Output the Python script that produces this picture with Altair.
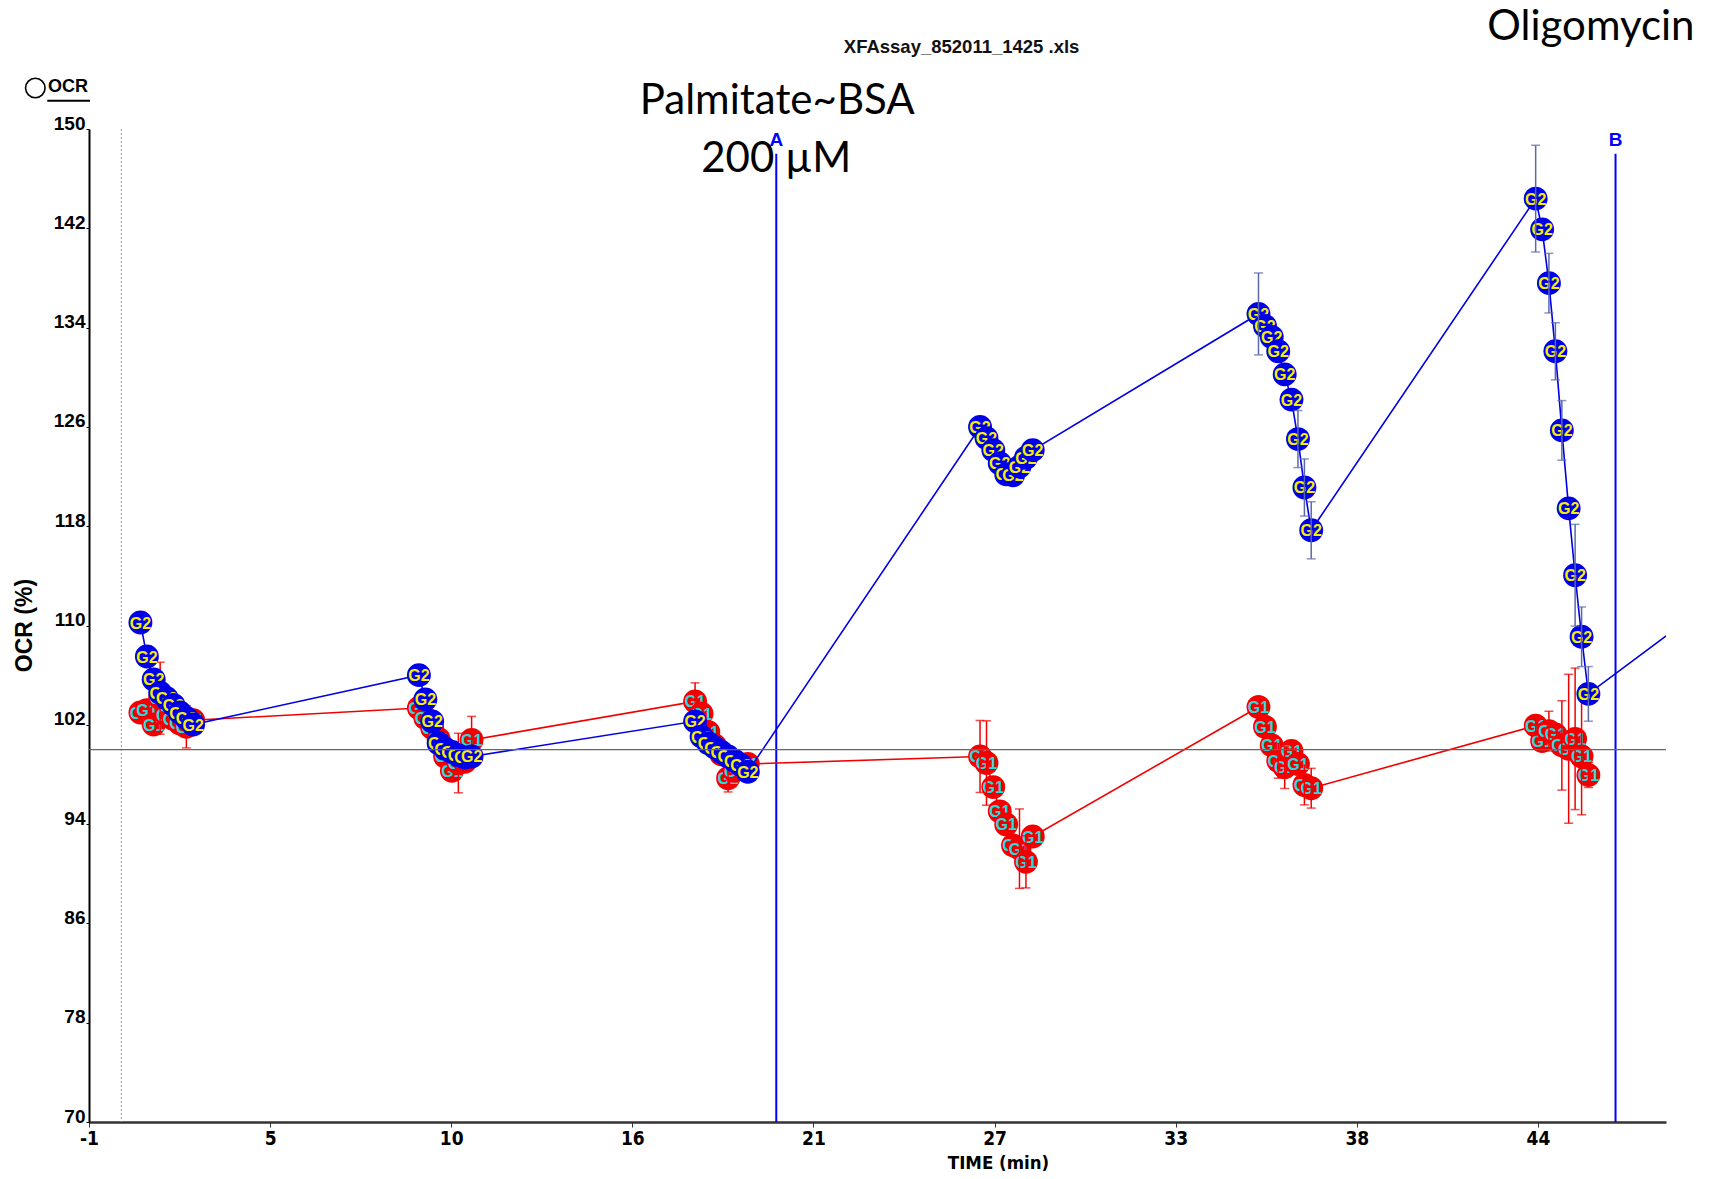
import altair as alt
import pandas as pd

# ---- data -----------------------------------------------------------------
# Measurement times (min): six cycles of nine readings each
cycle_times = [
    [0.59, 0.79, 1.00, 1.20, 1.40, 1.61, 1.81, 2.01, 2.22],
    [9.20, 9.40, 9.61, 9.81, 10.01, 10.22, 10.42, 10.62, 10.83],
    [17.74, 17.94, 18.15, 18.35, 18.55, 18.76, 18.96, 19.16, 19.37],
    [26.55, 26.75, 26.96, 27.16, 27.36, 27.57, 27.77, 27.97, 28.18],
    [35.16, 35.36, 35.57, 35.77, 35.97, 36.18, 36.38, 36.58, 36.79],
    [43.73, 43.93, 44.14, 44.34, 44.54, 44.75, 44.95, 45.15, 45.36],
]

# Group 1 (red) OCR in % of baseline, and its error (+/-)
g1_ocr = [
    [102.99, 103.17, 102.02, 104.14, 102.81, 102.46, 102.11, 101.84, 102.37],
    [103.35, 102.55, 101.75, 100.87, 99.45, 98.30, 98.92, 99.01, 100.78],
    [103.88, 102.90, 101.40, 100.34, 99.63, 97.69, 98.30, 98.75, 98.84],
    [99.45, 98.92, 96.98, 95.03, 93.97, 92.29, 92.02, 90.96, 93.00],
    [103.43, 101.84, 100.34, 99.10, 98.57, 99.90, 98.84, 97.15, 96.89],
    [101.93, 100.69, 101.49, 101.22, 100.34, 100.07, 100.87, 99.45, 97.95],
]
g1_err = [
    [0, 0, 0, 2.9, 0, 0, 0, 1.7, 0],
    [0, 0, 0, 0, 0, 0, 2.4, 0, 1.9],
    [1.5, 0, 0, 0, 0, 1.1, 0, 0, 0],
    [2.9, 3.4, 0, 0, 0, 0, 3.2, 2.1, 0],
    [0, 0, 0, 1.4, 1.7, 0, 0, 1.6, 1.6],
    [0.8, 0, 1.6, 0, 3.6, 6.0, 5.7, 4.7, 1.0],
]

# Group 2 (blue)
g2_ocr = [
    [110.24, 107.50, 105.65, 104.58, 104.14, 103.61, 102.99, 102.55, 102.02],
    [106.00, 104.05, 102.28, 100.51, 100.07, 99.81, 99.54, 99.37, 99.45],
    [102.28, 101.05, 100.51, 100.16, 99.81, 99.45, 99.10, 98.75, 98.22],
    [125.99, 125.10, 124.13, 123.07, 122.19, 122.10, 122.80, 123.51, 124.13],
    [135.10, 134.13, 133.24, 132.09, 130.23, 128.20, 125.02, 121.12, 117.67],
    [144.39, 141.91, 137.58, 132.09, 125.72, 119.44, 114.05, 109.09, 104.49],
]
g2_err = [
    [0, 0, 0, 0, 0, 0, 0, 0, 0],
    [0, 0, 0, 0, 0, 0, 0, 0, 0],
    [0, 0, 0, 0, 0, 0, 0, 0, 0],
    [0, 0, 0, 0, 0, 0, 0, 0, 0],
    [3.3, 0, 0, 0, 0, 0, 2.3, 2.3, 2.3],
    [4.3, 0, 2.4, 2.3, 2.4, 0, 4.1, 2.4, 2.2],
]
# first reading of the following cycle (beyond the time window shown)
g2_next = (52.30, 118.0)

# Injection ports
port_names = ["A", "B"]
port_times = [20.25, 46.20]

x_ticks = [-1, 4.6, 10.2, 15.8, 21.4, 27, 32.6, 38.2, 43.8]
y_ticks = [70, 78, 86, 94, 102, 110, 118, 126, 134, 142, 150]

# ---- styling ----------------------------------------------------------------
SANS = "Liberation Sans"
NARROW = "Liberation Sans Narrow, DejaVu Sans Condensed, Liberation Sans"
NOTE = "Lato"

RED, CYAN = "#f20000", "#22dede"
BLUE, YELLOW = "#0000e6", "#f6f000"
BLUE_ERR = "#5a68aa"

XS = alt.Scale(domain=[-1, 47.76], nice=False, zero=False)
YS = alt.Scale(domain=[70, 150], nice=False, zero=False)

XAX = alt.Axis(
    values=x_ticks, labelExpr="'' + round(datum.value)", title="TIME (min)",
    titleX=909, titleY=40, titleBaseline="middle", titleFont=NARROW,
    titleFontSize=18.5, titleFontWeight="bold", labelFont=NARROW, labelFontSize=19,
    labelFontWeight="bold", labelColor="black", titleColor="black",
    tickSize=5, labelPadding=2, domainColor="#333333", domainWidth=2.5,
    tickColor="#333333", grid=False, labelFlush=False, labelOverlap=False,
)
YAX = alt.Axis(
    values=y_ticks, format="d", title="OCR (%)", titleX=-65, titleY=496,
    titleAngle=270, titleAlign="center", titleBaseline="middle", titleFont=SANS,
    titleFontSize=23, titleFontWeight="bold", titleColor="black",
    labelFont=SANS, labelFontSize=19, labelFontWeight="bold", labelColor="black",
    labelBaseline="alphabetic", tickSize=3, labelPadding=1, domainColor="black",
    domainWidth=2, tickColor="black", grid=False, labelFlush=False,
    labelOverlap=False,
)


def xq(field):
    return alt.X(f"{field}:Q", scale=XS, axis=XAX)


def yq(field):
    return alt.Y(f"{field}:Q", scale=YS, axis=YAX)


# ---- tidy table ---------------------------------------------------------------
rows = []
for name, ocr, err in (("G1", g1_ocr, g1_err), ("G2", g2_ocr, g2_err)):
    for c, times in enumerate(cycle_times):
        for i, t in enumerate(times):
            v, e = ocr[c][i], err[c][i]
            rows.append(dict(series=name, cycle=c, idx=i, t=t, ocr=v, err=e,
                             lo=v - e, hi=v + e))
df = pd.DataFrame(rows)

line_g1 = df[df.series == "G1"][["t", "ocr"]]
line_g2 = pd.concat([df[df.series == "G2"][["t", "ocr"]],
                     pd.DataFrame({"t": [g2_next[0]], "ocr": [g2_next[1]]})])

layers = []

# dotted start marker at t = 0
layers.append(alt.Chart(pd.DataFrame({"t": [0]})).mark_rule(
    color="#9a9a9a", strokeDash=[2, 2], strokeWidth=1).encode(x=xq("t")))

# injection port lines and their letters
ports = pd.DataFrame({"name": port_names, "t": port_times,
                      "top": [148.0, 148.0], "bottom": [70, 70],
                      "label_y": [149.1, 149.1]})
layers.append(alt.Chart(ports).mark_rule(color="#0000ff", strokeWidth=2).encode(
    x=xq("t"), y=yq("top"), y2=alt.Y2("bottom")))
layers.append(alt.Chart(ports).mark_text(
    font=SANS, fontWeight="bold", fontSize=19, color="#0000ff",
    baseline="middle").encode(x=xq("t"), y=yq("label_y"), text="name:N"))


def series_layers(name, line_df, fill, text_color, err_color):
    out = [alt.Chart(line_df).mark_line(
        color=fill, strokeWidth=1.6, clip=True).encode(
        x=xq("t"), y=yq("ocr"), order="t:Q")]
    sub = df[df.series == name]
    for i in range(9):
        pts = sub[sub.idx == i]
        out.append(alt.Chart(pts).mark_circle(
            size=570, opacity=1, color=fill).encode(x=xq("t"), y=yq("ocr")))
        out.append(alt.Chart(pts).mark_text(
            text=name, font=SANS, fontWeight="bold", fontSize=16,
            color=text_color, baseline="middle", dy=1).encode(
            x=xq("t"), y=yq("ocr")))
    bars = sub[sub.err > 0]
    out.append(alt.Chart(bars).mark_rule(color=err_color, strokeWidth=1.5).encode(
        x=xq("t"), y=yq("lo"), y2=alt.Y2("hi")))
    out.append(alt.Chart(bars).transform_fold(["lo", "hi"], as_=["end", "v"]).mark_tick(
        orient="horizontal", size=9, thickness=1.5, color=err_color).encode(
        x=xq("t"), y=yq("v")))
    return out


layers += series_layers("G1", line_g1, RED, CYAN, RED)
layers += series_layers("G2", line_g2, BLUE, YELLOW, BLUE_ERR)

# 100 % reference line
layers.append(alt.Chart(pd.DataFrame({"v": [100]})).mark_rule(
    color="#666666", strokeWidth=1.2).encode(y=yq("v")))

# file name heading
layers.append(alt.Chart(pd.DataFrame({"t": [25.98], "v": [156.6],
                                      "s": ["XFAssay_852011_1425 .xls"]})).mark_text(
    font=SANS, fontWeight="bold", fontSize=18.5, color="#111111",
    baseline="middle").encode(x=xq("t"), y=yq("v"), text="s:N"))

# treatment notes
notes = pd.DataFrame({"t": [20.28, 20.25, 45.44],
                      "v": [152.26, 147.58, 158.2],
                      "s": ["Palmitate~BSA", "200 µM", "Oligomycin"]})
layers.append(alt.Chart(notes).mark_text(
    font=NOTE, fontSize=42, color="black", baseline="middle").encode(
    x=xq("t"), y=yq("v"), text="s:N"))

# OCR key in the top-left corner
layers.append(alt.Chart(pd.DataFrame({"t": [-2.66], "v": [153.3]})).mark_point(
    shape="circle", filled=False, size=380, strokeWidth=1.6, color="black",
    opacity=1).encode(x=xq("t"), y=yq("v")))
layers.append(alt.Chart(pd.DataFrame({"t": [-2.27], "v": [153.35], "s": ["OCR"]})).mark_text(
    font=SANS, fontWeight="bold", fontSize=18, color="black", align="left",
    baseline="middle").encode(x=xq("t"), y=yq("v"), text="s:N"))
layers.append(alt.Chart(pd.DataFrame({"t": [-2.29], "t2": [-0.97], "v": [152.28]})).mark_rule(
    color="black", strokeWidth=2).encode(x=xq("t"), x2=alt.X2("t2"), y=yq("v")))

chart = alt.layer(*layers).properties(
    width=1577, height=993,
    autosize=alt.AutoSizeParams(type="none"),
    padding={"left": 89, "top": 129, "right": 53, "bottom": 57},
    background="white",
).configure_view(stroke=None)

chart.save("out.html", embed_options={"renderer": "svg", "actions": False})
